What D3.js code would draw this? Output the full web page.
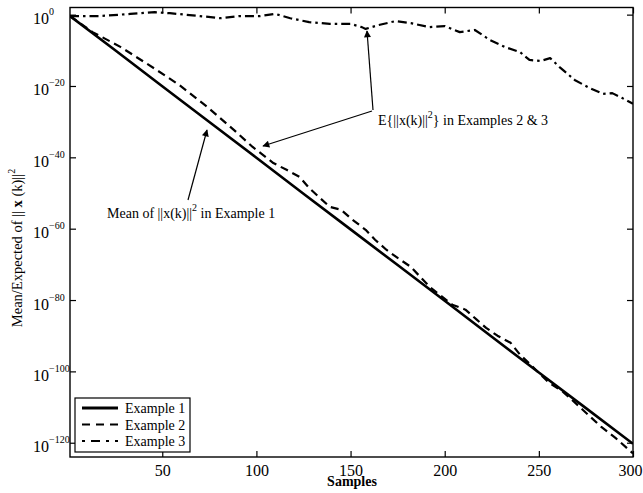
<!DOCTYPE html>
<html>
<head>
<meta charset="utf-8">
<script src="https://cdn.jsdelivr.net/npm/d3@7/dist/d3.min.js"></script>
<style>
  html, body { margin: 0; padding: 0; background: #fff; }
  svg { display: block; }
  text { font-family: "Liberation Serif", "Times New Roman", serif; fill: #000; }
</style>
</head>
<body>
<svg id="chart" width="643" height="493"></svg>
<script>
// ---- data (log10 of the plotted values) ----
const ex1Samples = [1, 25, 50, 75, 100, 125, 150, 175, 200, 225, 250, 275, 300];
const ex1Log10   = [-0.4, -10.0, -20.1, -30.1, -40.1, -50.2, -60.2, -70.2, -80.2, -90.3, -100.3, -110.3, -120.3];

const ex2Samples = [1, 13, 28, 47, 59, 74, 88, 98, 109, 116, 123, 128, 139, 145, 151, 158, 163, 169, 175, 182, 187, 192, 198, 204, 211, 217, 222, 228, 235, 240, 250, 255, 263, 273, 283, 291, 297, 300];
const ex2Log10   = [-0.4, -4.9, -9.1, -15.5, -19.7, -25.9, -32.3, -37.1, -41.6, -43.5, -45.5, -48.6, -53.9, -54.7, -57.5, -60.3, -63.1, -65.9, -68.2, -70.7, -73.5, -76.3, -78.8, -81.3, -82.7, -85.5, -87.8, -90.0, -92.0, -95.3, -100.4, -103.0, -105.8, -110.6, -115.5, -118.8, -121.6, -123.0];

const ex3Samples = [1, 17, 33, 46, 54, 70, 81, 91, 102, 110, 118, 128, 139, 150, 156, 158, 165, 174, 182, 192, 200, 208, 216, 224, 232, 240, 245, 251, 256, 261, 269, 277, 284, 289, 294, 300];
const ex3Log10   = [-0.4, -0.4, 0.2, 0.7, 0.4, -0.4, -1.0, -0.4, -0.4, 0.2, -1.0, -2.1, -2.6, -2.6, -3.5, -4.0, -2.9, -1.8, -2.4, -3.5, -3.2, -4.9, -4.3, -7.1, -9.1, -10.5, -12.7, -13.0, -12.2, -14.7, -18.3, -20.6, -22.2, -22.0, -23.3, -25.0];

const xTickValues = [50, 100, 150, 200, 250, 300];
const yTickExponents = [0, -20, -40, -60, -80, -100, -120];
const seriesNames = ["Example 1", "Example 2", "Example 3"];

// ---- layout ----
const L = 70, R = 633, T = 7.5, B = 457;
const svg = d3.select("#chart");

const x = d3.scaleLinear().domain([1, 300]).range([L, R]);
const y = d3.scaleLog().domain([1e-124, 1e2]).range([B, T]);

const series = [
  { name: seriesNames[0], k: ex1Samples, e: ex1Log10, dash: null, w: 2.6 },
  { name: seriesNames[1], k: ex2Samples, e: ex2Log10, dash: "8,5", w: 2.2 },
  { name: seriesNames[2], k: ex3Samples, e: ex3Log10, dash: "9,4,2.5,4", w: 2.2 }
];

svg.append("defs").append("clipPath").attr("id", "clip")
  .append("rect").attr("x", L).attr("y", T).attr("width", R - L).attr("height", B - T);

// lines
const line = d3.line().x(d => x(d[0])).y(d => y(d[1]));
const plot = svg.append("g").attr("clip-path", "url(#clip)");
series.forEach(s => {
  const pts = s.k.map((k, i) => [k, Math.pow(10, s.e[i])]);
  plot.append("path").datum(pts)
    .attr("d", line)
    .attr("fill", "none").attr("stroke", "#000")
    .attr("stroke-width", s.w)
    .attr("stroke-linejoin", "round")
    .attr("stroke-dasharray", s.dash);
});

// axes (ticks inward)
const xb = svg.append("g").attr("transform", `translate(0,${B})`)
  .call(d3.axisBottom(x).tickValues(xTickValues).tickSize(-6).tickPadding(8));
xb.select(".domain").remove();
xb.selectAll("text").attr("font-size", 16).attr("font-family", "Liberation Serif");
xb.selectAll(".tick").filter(d => d === 300).select("text")
  .attr("text-anchor", "end").attr("x", 642 - R);
xb.selectAll("line").attr("stroke-width", 1.2);

const xt = svg.append("g").attr("transform", `translate(0,${T})`)
  .call(d3.axisTop(x).tickValues(xTickValues).tickSize(-6).tickFormat(""));
xt.select(".domain").remove();
xt.selectAll("line").attr("stroke-width", 1.2);

const yTickVals = yTickExponents.map(e => Math.pow(10, e));
const yl = svg.append("g").attr("transform", `translate(${L},0)`)
  .call(d3.axisLeft(y).tickValues(yTickVals).tickSize(-6).tickFormat(""));
yl.select(".domain").remove();
yl.selectAll("line").attr("stroke-width", 1.2);
yl.selectAll(".tick").each(function(d, i) {
  const t = d3.select(this).append("text")
    .attr("x", 33 - L).attr("y", 9)
    .attr("text-anchor", "start")
    .attr("font-size", 16).attr("font-family", "Liberation Serif");
  t.append("tspan").text("10");
  t.append("tspan").attr("dy", -9).attr("font-size", 10)
    .text(yTickExponents[i] === 0 ? "0" : "\u2212" + Math.abs(yTickExponents[i]));
});

const yr = svg.append("g").attr("transform", `translate(${R},0)`)
  .call(d3.axisRight(y).tickValues(yTickVals).tickSize(-6).tickFormat(""));
yr.select(".domain").remove();
yr.selectAll("line").attr("stroke-width", 1.2);

// frame
svg.append("rect").attr("x", L).attr("y", T).attr("width", R - L).attr("height", B - T)
  .attr("fill", "none").attr("stroke", "#000").attr("stroke-width", 1.4);

// axis titles
svg.append("text").attr("x", 352).attr("y", 486).attr("text-anchor", "middle")
  .attr("font-size", 14).attr("font-weight", "bold").text("Samples");

const yt = svg.append("text").attr("transform", "translate(22,248) rotate(-90)")
  .attr("text-anchor", "middle").attr("font-size", 14.5);
yt.append("tspan").text("Mean/Expected of || ");
yt.append("tspan").attr("font-weight", "bold").text("x");
yt.append("tspan").text(" (k)||");
yt.append("tspan").attr("dy", -7).attr("font-size", 10).text("2");

// legend
const lg = svg.append("g");
lg.append("rect").attr("x", 75).attr("y", 398).attr("width", 115).attr("height", 54)
  .attr("fill", "#fff").attr("stroke", "#000").attr("stroke-width", 1.2);
series.forEach((s, i) => {
  const cy = 408 + i * 16.5;
  lg.append("line").attr("x1", 82).attr("x2", 118).attr("y1", cy).attr("y2", cy)
    .attr("stroke", "#000").attr("stroke-width", i === 0 ? 3 : 2.2)
    .attr("stroke-dasharray", i === 1 ? "8,6" : (i === 2 ? "3,6,9,6" : null));
  lg.append("text").attr("x", 125).attr("y", cy + 5).attr("font-size", 14).text(s.name);
});

// annotations
svg.select("defs").append("marker").attr("id", "ah")
  .attr("viewBox", "0 0 10 10").attr("refX", 9).attr("refY", 5)
  .attr("markerWidth", 9).attr("markerHeight", 7).attr("markerUnits", "userSpaceOnUse")
  .attr("orient", "auto")
  .append("path").attr("d", "M0,0 L10,5 L0,10 z").attr("fill", "#000");

function arrow(x1, y1, x2, y2) {
  svg.append("line").attr("x1", x1).attr("y1", y1).attr("x2", x2).attr("y2", y2)
    .attr("stroke", "#000").attr("stroke-width", 1.2).attr("marker-end", "url(#ah)");
}
arrow(373, 110, 367, 31);
arrow(372, 111, 263, 146);
arrow(188, 200, 207, 130);

const a1 = svg.append("text").attr("x", 378).attr("y", 125).attr("font-size", 14);
a1.append("tspan").text("E{||x(k)||");
a1.append("tspan").attr("dy", -7).attr("font-size", 10).text("2");
a1.append("tspan").attr("dy", 7).text("} in Examples 2 & 3");

const a2 = svg.append("text").attr("x", 107).attr("y", 218).attr("font-size", 14);
a2.append("tspan").text("Mean of ||x(k)||");
a2.append("tspan").attr("dy", -7).attr("font-size", 10).text("2");
a2.append("tspan").attr("dy", 7).text(" in Example 1");
</script>
</body>
</html>
